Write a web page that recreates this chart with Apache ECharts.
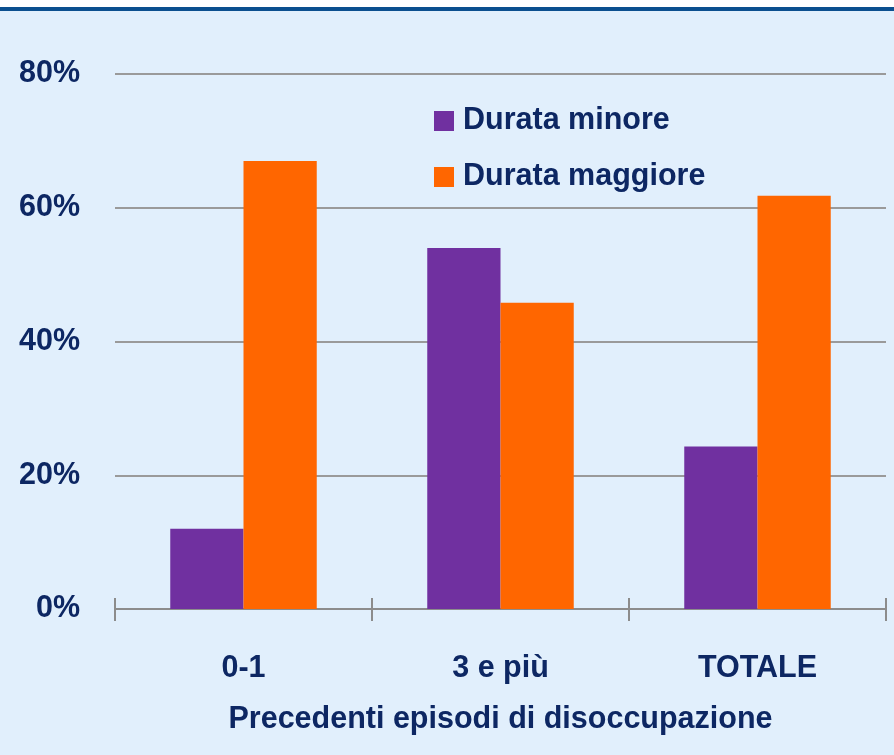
<!DOCTYPE html>
<html>
<head>
<meta charset="utf-8">
<script src="https://cdn.jsdelivr.net/npm/echarts@6/dist/echarts.min.js"></script>
<style>
  html, body { margin: 0; padding: 0; background: #ffffff; }
  #chart { width: 894px; height: 755px; }
</style>
</head>
<body>
<div id="chart"></div>
<script>
// dati
const categories = ['0-1', '3 e più', 'TOTALE'];
const seriesNames = ['Durata minore', 'Durata maggiore'];
const durataMinore = [12.0, 54.0, 24.3];
const durataMaggiore = [67.0, 45.8, 61.8];
const yTicks = [0, 20, 40, 60, 80];

const FONT = "'Liberation Sans', Arial, sans-serif";
const NAVY = '#0d2763';

const chart = echarts.init(document.getElementById('chart'));
chart.setOption({
  backgroundColor: '#e1effc',
  animation: false,
  textStyle: { fontFamily: FONT, fontWeight: 'bold', color: NAVY },
  graphic: [
    { type: 'rect', left: 0, top: 0, shape: { width: 894, height: 7 }, style: { fill: '#ffffff' } },
    { type: 'rect', left: 0, top: 7, shape: { width: 894, height: 4 }, style: { fill: '#0b4f8f' } }
  ],
  grid: { left: 115, right: 8, top: 74, bottom: 146 },
  legend: {
    data: seriesNames,
    orient: 'vertical',
    left: 429,
    top: 99,
    itemWidth: 20,
    itemHeight: 20,
    itemGap: 22,
    icon: 'rect',
    textStyle: { fontFamily: FONT, fontWeight: 'bold', fontSize: 30.5, color: NAVY, lineHeight: 34, padding: [0, 0, 0, 4] }
  },
  xAxis: [
    {
      type: 'category',
      data: categories,
      name: 'Precedenti episodi di disoccupazione',
      nameLocation: 'middle',
      nameGap: 95,
      nameTextStyle: { fontFamily: FONT, fontWeight: 'bold', fontSize: 30.5, color: NAVY },
      axisLine: { lineStyle: { color: '#8c8c8c', width: 2 } },
      axisTick: { show: true, length: 12, lineStyle: { color: '#8c8c8c', width: 2 } },
      axisLabel: { fontFamily: FONT, fontWeight: 'bold', fontSize: 30.5, color: NAVY, margin: 44 }
    },
    {
      type: 'category',
      data: categories,
      position: 'bottom',
      axisLine: { show: false },
      axisTick: { show: true, inside: true, length: 11, lineStyle: { color: '#8c8c8c', width: 2 } },
      axisLabel: { show: false }
    }
  ],
  yAxis: {
    type: 'value',
    min: yTicks[0],
    max: yTicks[yTicks.length - 1],
    interval: 20,
    axisLine: { show: false },
    axisTick: { show: false },
    splitLine: { lineStyle: { color: '#9a9a9a', width: 2 } },
    axisLabel: { formatter: '{value}%', fontFamily: FONT, fontWeight: 'bold', fontSize: 30.5, color: NAVY, margin: 35 }
  },
  series: [
    {
      name: seriesNames[0],
      type: 'bar',
      data: durataMinore,
      barGap: '0%',
      barCategoryGap: '43%',
      itemStyle: { color: '#7030a0' }
    },
    {
      name: seriesNames[1],
      type: 'bar',
      data: durataMaggiore,
      itemStyle: { color: '#ff6600' }
    }
  ]
});
</script>
</body>
</html>
